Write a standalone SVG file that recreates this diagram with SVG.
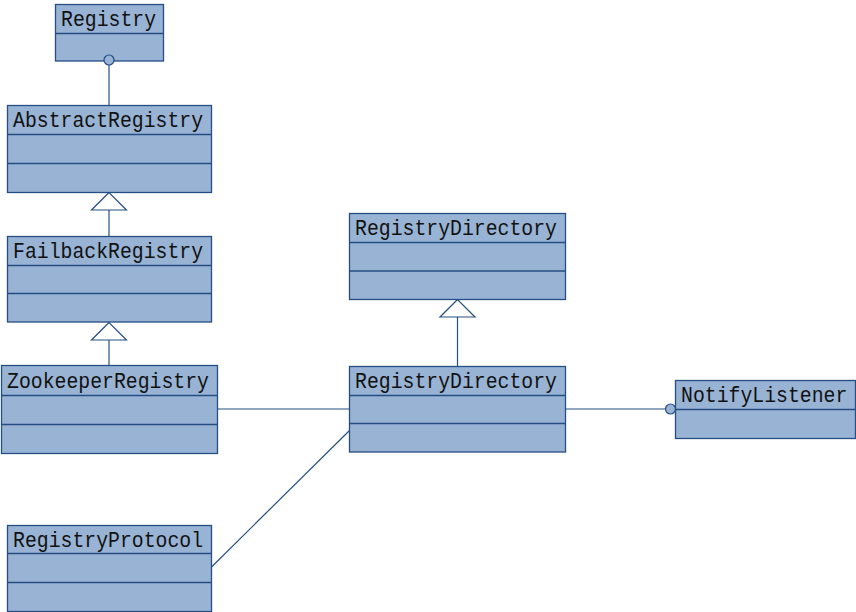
<svg xmlns="http://www.w3.org/2000/svg" width="856" height="612" viewBox="0 0 856 612">
<style>
.box{fill:#98B3D4;stroke:#254E84;stroke-width:1.3}
.div{stroke:#254E84;stroke-width:1.3;fill:none}
.t{font-family:"Liberation Mono","DejaVu Sans Mono",monospace;font-size:19.8px;fill:#111}
.c{stroke:#254E84;stroke-width:1.2;fill:none}
.tri{fill:#fff;stroke:#254E84;stroke-width:1.2}
.dot{fill:#98B3D4;stroke:#254E84;stroke-width:1.2}
</style>
<rect width="856" height="612" fill="#fff"/>
<g id="connectors">
<line class="c" x1="109" y1="65" x2="109" y2="105.5"/>
<line class="c" x1="109" y1="210" x2="109" y2="236.5"/>
<polygon class="tri" points="109,192.5 91.5,210 126.5,210"/>
<line class="c" x1="109" y1="340" x2="109" y2="365.5"/>
<polygon class="tri" points="109,322.5 91.5,340 126.5,340"/>
<line class="c" x1="457.5" y1="317" x2="457.5" y2="366.5"/>
<polygon class="tri" points="457.5,299.5 440,317 475,317"/>
<line class="c" x1="217.5" y1="409" x2="349.5" y2="409"/>
<line class="c" x1="211.5" y1="567" x2="349.5" y2="430.5" stroke-width="0.9"/>
<line class="c" x1="565.5" y1="409" x2="670" y2="409"/>
</g>
<g id="Registry">
<rect class="box" x="55.5" y="4.5" width="108" height="56.5"/>
<line class="div" x1="55.5" y1="33.5" x2="163.5" y2="33.5"/>
<text class="t" transform="translate(61,26) scale(1,1.15)">Registry</text>
<circle class="dot" cx="109" cy="60" r="5"/>
</g>
<g id="AbstractRegistry">
<rect class="box" x="7.5" y="105.5" width="204" height="87"/>
<line class="div" x1="7.5" y1="134.5" x2="211.5" y2="134.5"/>
<line class="div" x1="7.5" y1="163.5" x2="211.5" y2="163.5"/>
<text class="t" transform="translate(13,127) scale(1,1.15)">AbstractRegistry</text>
</g>
<g id="FailbackRegistry">
<rect class="box" x="7.5" y="236.5" width="204" height="85.5"/>
<line class="div" x1="7.5" y1="265.5" x2="211.5" y2="265.5"/>
<line class="div" x1="7.5" y1="293.5" x2="211.5" y2="293.5"/>
<text class="t" transform="translate(13,258) scale(1,1.15)">FailbackRegistry</text>
</g>
<g id="ZookeeperRegistry">
<rect class="box" x="1.5" y="365.5" width="216" height="88"/>
<line class="div" x1="1.5" y1="395.5" x2="217.5" y2="395.5"/>
<line class="div" x1="1.5" y1="424.5" x2="217.5" y2="424.5"/>
<text class="t" transform="translate(7,388) scale(1,1.15)">ZookeeperRegistry</text>
</g>
<g id="RegistryDirectoryTop">
<rect class="box" x="349.5" y="213.5" width="216" height="86"/>
<line class="div" x1="349.5" y1="242.5" x2="565.5" y2="242.5"/>
<line class="div" x1="349.5" y1="271" x2="565.5" y2="271"/>
<text class="t" transform="translate(355,235) scale(1,1.15)">RegistryDirectory</text>
</g>
<g id="RegistryDirectory">
<rect class="box" x="349.5" y="366.5" width="216" height="85.5"/>
<line class="div" x1="349.5" y1="395.5" x2="565.5" y2="395.5"/>
<line class="div" x1="349.5" y1="423.5" x2="565.5" y2="423.5"/>
<text class="t" transform="translate(355,388) scale(1,1.15)">RegistryDirectory</text>
</g>
<g id="NotifyListener">
<rect class="box" x="675.5" y="380.5" width="180" height="58"/>
<line class="div" x1="675.5" y1="409.5" x2="855.5" y2="409.5"/>
<text class="t" transform="translate(681,402) scale(1,1.15)">NotifyListener</text>
<circle class="dot" cx="670.5" cy="409" r="5"/>
</g>
<g id="RegistryProtocol">
<rect class="box" x="7.5" y="525.5" width="204" height="86"/>
<line class="div" x1="7.5" y1="553.5" x2="211.5" y2="553.5"/>
<line class="div" x1="7.5" y1="582.5" x2="211.5" y2="582.5"/>
<text class="t" transform="translate(13,547) scale(1,1.15)">RegistryProtocol</text>
</g>
</svg>
